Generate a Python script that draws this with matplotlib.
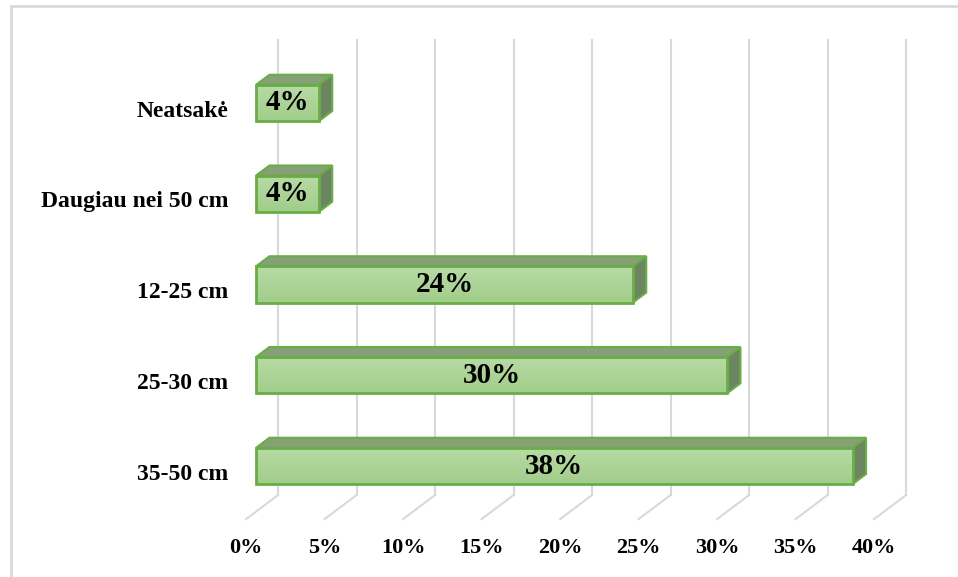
import numpy as np
import matplotlib.pyplot as plt
from matplotlib.patches import Polygon, Rectangle
from matplotlib.colors import LinearSegmentedColormap

# Daten
kategorien = ['35-50 cm', '25-30 cm', '12-25 cm', 'Daugiau nei 50 cm', 'Neatsakė']
werte = [38, 30, 24, 4, 4]
ticks = [0, 5, 10, 15, 20, 25, 30, 35, 40]
tick_labels = ['0%', '5%', '10%', '15%', '20%', '25%', '30%', '35%', '40%']

# Tiefe (Pseudo-3D), in Dateneinheiten
DX = 2.04      # x-Verschiebung ueber volle Tiefe
DY = 0.265     # y-Verschiebung ueber volle Tiefe
s_boden = -0.31   # Bodenkante vorne
s_wand = 0.69     # Rueckwand
s_balken = 0.42   # Balkentiefe
h = 0.40          # Balkenhoehe

def proj(v, y, s):
    return (v + DX * s, y + DY * s)

fig = plt.figure(figsize=(9.58, 5.77), dpi=100)
ax = fig.add_axes([0, 0, 1, 1])
ax.set_xlim(-256 / 15.7, -256 / 15.7 + 958 / 15.7)
ax.set_ylim(-111 / 90.75, -111 / 90.75 + 577 / 90.75)
ax.axis('off')

# Rahmen
fig.patches.append(Rectangle((11 / 958, -0.01), 1.2, 1 - 6 / 577 + 0.01, transform=fig.transFigure,
                             fill=False, edgecolor='#d9d9d9', linewidth=2))

y_wand_unten = -0.32 - DY * s_wand
y_wand_oben = 4.69 - DY * s_wand
grid_col = '#d9d9d9'
for t, lab in zip(ticks, tick_labels):
    x0, y0 = proj(t, y_wand_unten, s_wand)
    x1, y1 = proj(t, y_wand_oben, s_wand)
    ax.plot([x0, x1], [y0, y1], color=grid_col, linewidth=1.5, zorder=1)
    x2, y2 = proj(t, y_wand_unten, s_boden)
    ax.plot([x0, x2], [y0, y2], color=grid_col, linewidth=1.5, zorder=1)
    ax.text(x2, -0.90, lab, ha='center', va='center', fontsize=16,
            fontweight='bold', family='Liberation Serif')

cmap = LinearSegmentedColormap.from_list('g', ['#a2cd8a', '#b7dba6'])
kante = '#6aad46'

for i, (kat, v) in enumerate(zip(kategorien, werte)):
    y0, y1 = i - h / 2, i + h / 2
    # Oberseite
    top = [proj(0, y1, 0), proj(v, y1, 0), proj(v, y1, s_balken), proj(0, y1, s_balken)]
    ax.add_patch(Polygon(top, closed=True, facecolor='#86a077', edgecolor=kante, linewidth=1.5, zorder=3))
    # Seite
    side = [proj(v, y0, 0), proj(v, y0, s_balken), proj(v, y1, s_balken), proj(v, y1, 0)]
    ax.add_patch(Polygon(side, closed=True, facecolor='#6b8660', edgecolor=kante, linewidth=1.5, zorder=3))
    # Vorderseite mit Verlauf
    grad = np.linspace(0, 1, 50).reshape(-1, 1)
    im = ax.imshow(grad, cmap=cmap, aspect='auto', extent=(0, v, y0, y1), origin='lower', zorder=4)
    front = Rectangle((0, y0), v, h, facecolor='none', edgecolor=kante, linewidth=2, zorder=5)
    ax.add_patch(front)
    im.set_clip_path(front)
    ax.text(v / 2, i, f'{v}%', ha='center', va='center', fontsize=21,
            fontweight='bold', family='Liberation Serif', zorder=6)
    ax.text(-1.78, i - 0.09, kat, ha='right', va='center', fontsize=17,
            fontweight='bold', family='Liberation Serif')

plt.savefig('out.png', dpi=100)
